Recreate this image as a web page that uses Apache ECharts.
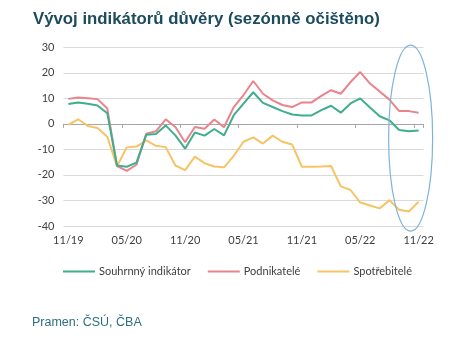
<!DOCTYPE html>
<html><head><meta charset="utf-8">
<script src="https://cdn.jsdelivr.net/npm/echarts@6/dist/echarts.min.js"></script>
<style>html,body{margin:0;padding:0;background:#fff}#c{width:458px;height:343px}</style>
</head><body><div id="c"></div>
<script>
const categories = ['11/19','12/19','01/20','02/20','03/20','04/20','05/20','06/20','07/20','08/20','09/20','10/20',
 '11/20','12/20','01/21','02/21','03/21','04/21','05/21','06/21','07/21','08/21','09/21','10/21',
 '11/21','12/21','01/22','02/22','03/22','04/22','05/22','06/22','07/22','08/22','09/22','10/22','11/22'];
const souhrnny = [7.8,8.4,7.9,7.2,4.2,-16.3,-16.8,-15.2,-4.3,-4.0,-0.6,-4.5,
 -9.7,-3.4,-4.6,-2.0,-4.5,3.4,7.9,12.4,8.2,6.6,5.0,3.7,
 3.3,3.3,5.4,7.1,4.4,8.0,10.0,6.4,3.0,1.4,-2.4,-2.9,-2.6];
const podnikatele = [9.8,10.3,10.0,9.7,6.0,-16.5,-18.4,-16.0,-3.9,-2.9,1.8,-1.2,
 -7.2,-1.2,-1.9,1.7,-1.3,6.6,11.3,16.8,11.8,9.2,7.4,6.6,
 8.4,8.4,11.0,13.2,11.8,16.4,20.3,15.8,12.7,9.5,5.0,5.0,4.4];
const spotrebitele = [-0.4,1.8,-0.8,-1.6,-5.0,-16.6,-9.2,-8.9,-6.5,-8.6,-9.1,-16.3,
 -18.1,-12.8,-15.4,-16.7,-17.0,-12.5,-7.0,-5.3,-7.7,-4.6,-7.0,-8.1,
 -16.8,-16.8,-16.7,-16.5,-24.5,-25.9,-30.8,-32.0,-33.1,-29.9,-33.6,-34.3,-30.5];
const seriesNames = ['Souhrnný indikátor','Podnikatelé','Spotřebitelé'];
const yTicks = {min:-40, max:30, interval:10};

const chart = echarts.init(document.getElementById('c'), null, {renderer:'canvas'});
const axisFont = 'Lato, "Liberation Sans", sans-serif';
chart.setOption({
  animation:false,
  title:[
    {text:'Vývoj indikátorů důvěry (sezónně očištěno)', left:33, top:11, padding:0,
     textStyle:{fontFamily:'"Liberation Sans", Arial, sans-serif', fontWeight:'bold', fontSize:16.8, color:'#1d4b5e'}},
    {text:'Pramen: ČSÚ, ČBA', left:32, top:316, padding:0,
     textStyle:{fontFamily:'"Liberation Sans", Arial, sans-serif', fontWeight:'normal', fontSize:12.5, color:'#2f6f82'}}
  ],
  grid:{left:63.5, right:34.5, top:47.3, bottom:117, containLabel:false},
  legend:{left:63, top:266, padding:0, itemWidth:32, itemHeight:2, itemGap:17, icon:'rect',
    textStyle:{fontFamily:axisFont, fontSize:11, color:'#404040', padding:[0,0,0,-1]},
    data:seriesNames},
  xAxis:[
    {type:'category', data:categories, boundaryGap:true,
     axisLine:{show:false, onZero:false}, axisTick:{show:false},
     axisLabel:{interval:5, fontFamily:axisFont, fontSize:11, color:'#404040', margin:9},
     splitLine:{show:false}},
    {type:'category', data:categories, boundaryGap:true, position:'bottom',
     axisLine:{show:true, onZero:true, lineStyle:{color:'#a6a6a6', width:1}},
     axisTick:{show:true, interval:5, length:4, lineStyle:{color:'#a6a6a6'}},
     axisLabel:{show:false}, splitLine:{show:false}}
  ],
  yAxis:{type:'value', min:yTicks.min, max:yTicks.max, interval:yTicks.interval,
    axisLine:{show:false}, axisTick:{show:false},
    axisLabel:{fontFamily:axisFont, fontSize:11, color:'#404040', margin:9},
    splitLine:{lineStyle:{color:'#d9d9d9', width:1}}},
  series:[
    {name:seriesNames[0], type:'line', data:souhrnny, symbol:'none', lineStyle:{width:2, color:'#3fae8d'}, itemStyle:{color:'#3fae8d'}, z:4},
    {name:seriesNames[1], type:'line', data:podnikatele, symbol:'none', lineStyle:{width:2, color:'#e7848c'}, itemStyle:{color:'#e7848c'}, z:3},
    {name:seriesNames[2], type:'line', data:spotrebitele, symbol:'none', lineStyle:{width:2, color:'#f6c366'}, itemStyle:{color:'#f6c366'}, z:2}
  ]
});
const px = chart.convertToPixel({xAxisIndex:0}, categories.length-1);
const py = chart.convertToPixel({yAxisIndex:0}, -5.6);
chart.setOption({graphic:[{type:'ellipse', shape:{cx:px-8, cy:py, rx:22, ry:93},
  style:{fill:'none', stroke:'#7eb3db', lineWidth:1.2}, z:10}]});
</script></body></html>
